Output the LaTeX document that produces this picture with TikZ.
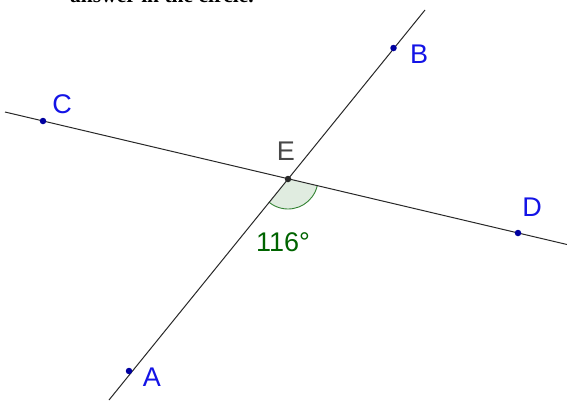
\documentclass[tikz,border=0pt]{standalone}
\usepackage{fontspec}
\setmainfont{Liberation Sans}
\newfontfamily\topserif{Liberation Serif}
\definecolor{ptblue}{RGB}{0,0,160}
\definecolor{lblblue}{RGB}{20,20,230}
\definecolor{anggreen}{RGB}{0,100,0}
\definecolor{linegray}{RGB}{40,40,40}
\begin{document}
\begin{tikzpicture}[x=1pt,y=-1pt,
  lineseg/.style={draw=linegray,line width=1pt},
  ptdot/.style={circle,fill=ptblue,inner sep=0pt,minimum size=6.5pt},
  edot/.style={circle,fill=linegray,inner sep=0pt,minimum size=6.5pt},
  ptlabel/.style={text=lblblue,font=\fontsize{27}{30}\selectfont,inner sep=0pt},
  elabel/.style={text=linegray!85,font=\fontsize{27}{30}\selectfont,inner sep=0pt},
  anglabel/.style={text=anggreen,font=\fontsize{27}{30}\selectfont,inner sep=0pt}]
\useasboundingbox (0,0) rectangle (567,402);
\fill[white] (0,0) rectangle (567,402);
% clipped heading fragment
\node[anchor=base west,inner sep=0pt,font=\topserif\bfseries\fontsize{21.5}{24}\selectfont] (head) at (70,2.5) {answer in the circle.};
% points
\coordinate (E) at (288,179);
\coordinate (Aend) at (109,400);
\coordinate (Bend) at (425,10);
\coordinate (Cend) at (5,112);
\coordinate (Dend) at (567,244.5);
% angle
\fill[anggreen,fill opacity=0.12] (E) -- ++(13.21:30) arc[start angle=13.21,end angle=129.63,radius=30] -- cycle;
\draw[anggreen!80,line width=0.9pt] (E) ++(13.21:30) arc[start angle=13.21,end angle=129.63,radius=30];
% lines
\draw[lineseg] (Aend) -- (Bend);
\draw[lineseg] (Cend) -- (Dend);
% dots
\node[ptdot] (A) at (129,371) {};
\node[ptdot] (B) at (393.5,48) {};
\node[ptdot] (C) at (43,121) {};
\node[ptdot] (D) at (518,233) {};
\node[edot] (Ed) at (E) {};
% labels
\node[ptlabel] (lA) at (152,377) {A};
\node[ptlabel] (lB) at (419,54) {B};
\node[ptlabel] (lC) at (62,104) {C};
\node[ptlabel] (lD) at (532,207) {D};
\node[elabel] (lE) at (286,151) {E};
\node[anglabel] (ang) at (283,242) {116°};
\end{tikzpicture}
\end{document}
